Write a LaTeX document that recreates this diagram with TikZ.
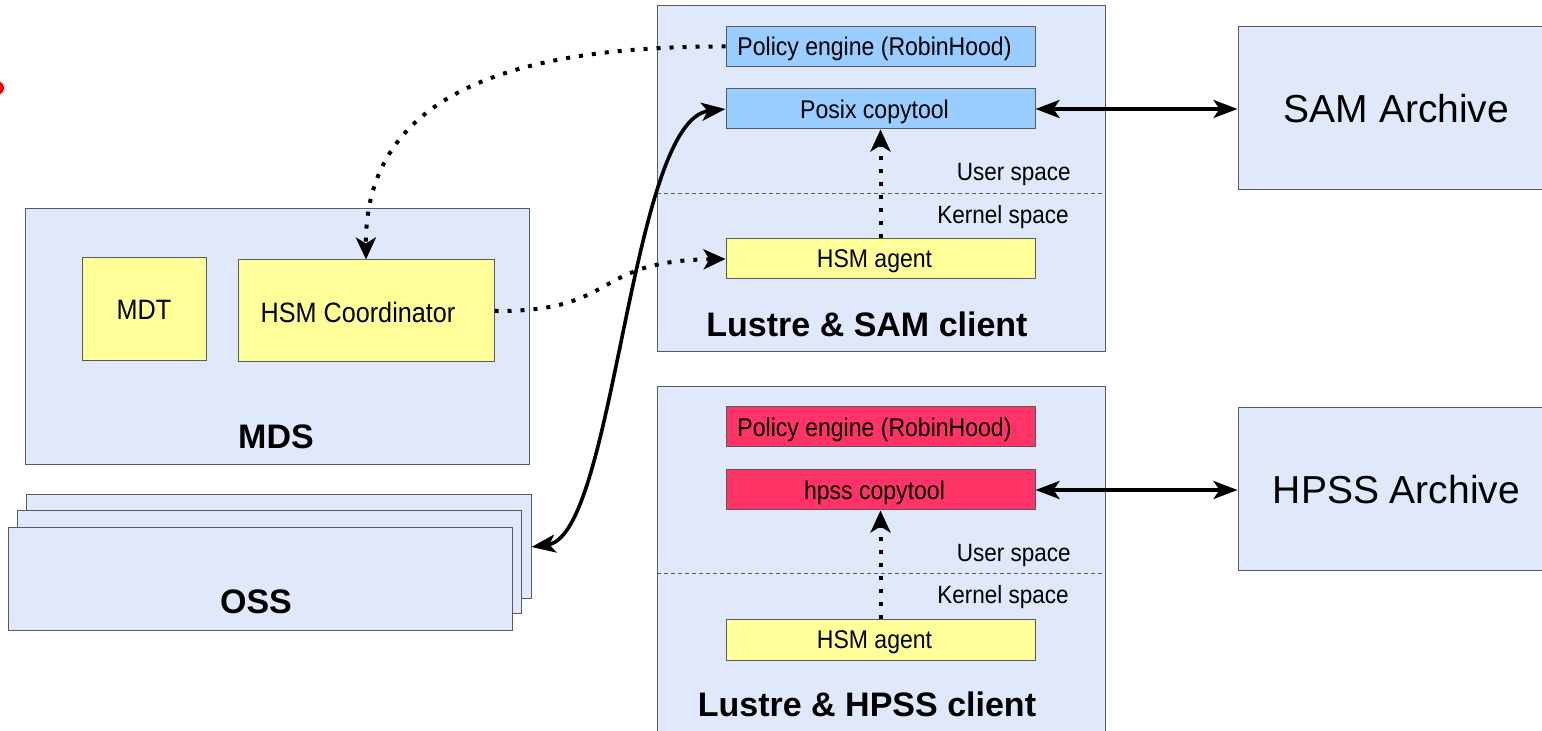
\documentclass[tikz,border=0pt]{standalone}
\usepackage{fontspec}
\setmainfont{Liberation Sans}
\newfontfamily\narrowsans[FakeStretch=0.9]{Liberation Sans}
\usetikzlibrary{arrows.meta}
\definecolor{panel}{HTML}{E0E8FB}
\definecolor{edge}{HTML}{5A5A5A}
\definecolor{lblue}{HTML}{99CCFF}
\definecolor{lyellow}{HTML}{FFFF99}
\definecolor{lred}{HTML}{FF3366}
\tikzset{
  panelbox/.style={draw=edge, fill=panel, line width=0.5pt, inner sep=0pt},
  compbox/.style={draw=edge, line width=0.5pt, inner sep=0pt, minimum width=154.5pt, minimum height=20pt, text depth=0pt, font=\narrowsans\fontsize{12.8}{14}\selectfont},
  shiftleft/.style={execute at end node={\hspace*{6pt}}},
  midtext/.style={font=\narrowsans\fontsize{14}{16}\selectfont},
  smalltext/.style={font=\narrowsans\fontsize{12.5}{14}\selectfont, inner sep=0pt},
  boldlabel/.style={font=\bfseries\fontsize{17}{19}\selectfont, inner sep=0pt},
  archtext/.style={font=\fontsize{19.5}{22}\selectfont},
  solidarrow/.style={line width=1.8pt, {Stealth[length=12pt,width=9pt,inset=3pt]}-{Stealth[length=12pt,width=9pt,inset=3pt]}},
  dotarrow/.style={line width=2pt, dash pattern=on 2pt off 4.5pt, -{Stealth[length=11pt,width=10pt,inset=3pt]}},
  sepline/.style={draw=edge, line width=0.4pt, dash pattern=on 2pt off 1.5pt}
}
\begin{document}
\begin{tikzpicture}[x=0.5pt,y=-0.5pt]
\useasboundingbox (0,0) rectangle (1542,731);
% red dot at the left edge
\fill[red] (-3,88) circle (7);
% SAM client
\node[panelbox, minimum width=224pt, minimum height=173pt] (samclient) at (881,179) {};
\node[compbox, shiftleft, fill=lblue] (pe1) at (880.5,46.5) {Policy engine (RobinHood)};
\node[compbox, shiftleft, fill=lblue] (posix) at (880.5,109) {Posix copytool};
\node[compbox, shiftleft, fill=lyellow] (agent1) at (880.5,259) {HSM agent};
\coordinate (sepA1) at (657,193);
\coordinate (sepA2) at (1105,193);
\draw[sepline] (sepA1) -- (sepA2);
\node[smalltext, anchor=east] (us1) at (1071,174) {User space};
\node[smalltext, anchor=east] (ks1) at (1069,217) {Kernel space};
\node[boldlabel] (samlabel) at (867,324) {Lustre \& SAM client};
% SAM archive
\node[panelbox, minimum width=158.5pt, minimum height=81.5pt, archtext] (samarch) at (1396.5,108.5) {SAM Archive};
% MDS
\node[panelbox, minimum width=252pt, minimum height=128pt] (mds) at (277,337) {};
\node[compbox, fill=lyellow, minimum width=62pt, minimum height=51.5pt, midtext] (mdt) at (144,309.5) {MDT};
\node[compbox, fill=lyellow, minimum width=128pt, minimum height=51pt, midtext] (coord) at (366,311) {};
\node[midtext, inner sep=0pt] (coordtext) at (358,312) {HSM Coordinator};
\node[boldlabel] (mdslabel) at (276,437) {MDS};
% OSS stack
\node[panelbox, minimum width=252.5pt, minimum height=52pt] (oss3) at (278.5,547) {};
\node[panelbox, minimum width=252pt, minimum height=51.5pt] (oss2) at (269,562.5) {};
\node[panelbox, minimum width=252pt, minimum height=51.5pt] (oss1) at (260,579.5) {};
\node[boldlabel] (osslabel) at (256,602) {OSS};
% HPSS client
\node[panelbox, minimum width=224pt, minimum height=179pt] (hpssclient) at (881,566) {};
\node[compbox, shiftleft, fill=lred] (pe2) at (880.5,427) {Policy engine (RobinHood)};
\node[compbox, shiftleft, fill=lred] (hpsscopy) at (880.5,490) {hpss copytool};
\node[compbox, shiftleft, fill=lyellow] (agent2) at (880.5,640) {HSM agent};
\coordinate (sepB1) at (657,573);
\coordinate (sepB2) at (1105,573);
\draw[sepline] (sepB1) -- (sepB2);
\node[smalltext, anchor=east] (us2) at (1071,555) {User space};
\node[smalltext, anchor=east] (ks2) at (1069,597) {Kernel space};
\node[boldlabel] (hpsslabel) at (867,704) {Lustre \& HPSS client};
% HPSS archive
\node[panelbox, minimum width=158.5pt, minimum height=81.5pt, archtext] (hpssarch) at (1396.5,489.5) {HPSS Archive};
% connectors
\draw[dotarrow] (pe1.west) .. controls (500,46) and (365,100) .. (coord.north);
\draw[dotarrow] (coord.east) .. controls (620,312) and (590,261) .. (agent1.west);
\draw[solidarrow] (oss3.east) .. controls (615,535) and (630,120) .. (posix.west);
\draw[dotarrow] (agent1.north) -- (posix.south);
\draw[dotarrow] (agent2.north) -- (hpsscopy.south);
\draw[solidarrow] (posix.east) -- (samarch.west |- posix.east);
\draw[solidarrow] (hpsscopy.east) -- (hpssarch.west |- hpsscopy.east);
\end{tikzpicture}
\end{document}
